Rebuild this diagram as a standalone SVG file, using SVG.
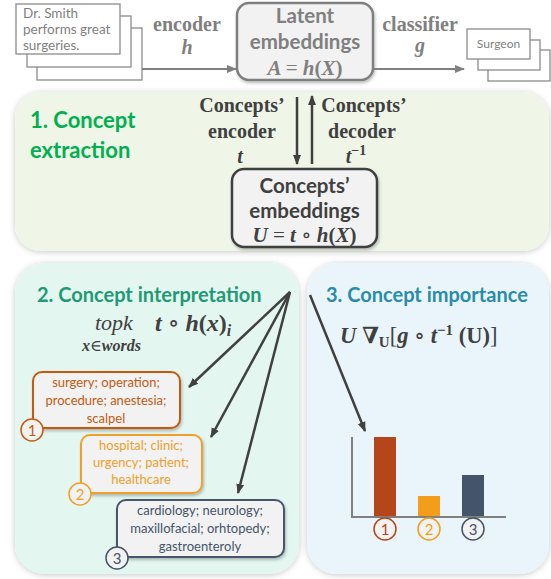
<svg xmlns="http://www.w3.org/2000/svg" width="551" height="579" viewBox="0 0 551 579">
<defs>
<style>
.sans{font-family:Lato,"Open Sans","Liberation Sans",sans-serif}
.serif{font-family:"Liberation Serif","DejaVu Serif",serif}
.doc{fill:#fff;stroke:#8a8a8a;stroke-width:1.3}
.gray{fill:#7f7f7f}
.dark{fill:#404040}
.lbl{font-family:"Liberation Serif","DejaVu Serif",serif;font-weight:bold;font-size:20px;text-anchor:middle}
.math{font-family:"Liberation Serif","DejaVu Serif",serif;font-weight:bold;font-style:italic}
.wbox{fill:#f2f2f2;stroke-width:2}
.wtxt{font-family:Lato,"Open Sans","Liberation Sans",sans-serif;font-size:13px;text-anchor:middle}
.num{font-family:Lato,"Open Sans","Liberation Sans",sans-serif;font-size:15px;text-anchor:middle}
.conn{stroke:#404040;stroke-width:2.5;fill:none}
</style>
<filter id="sh" x="-10%" y="-10%" width="120%" height="120%">
<feDropShadow dx="0" dy="1" stdDeviation="3" flood-color="#000" flood-opacity="0.22"/>
</filter>
<filter id="sh2" x="-10%" y="-10%" width="120%" height="130%">
<feDropShadow dx="1" dy="2" stdDeviation="1.5" flood-color="#000" flood-opacity="0.25"/>
</filter>
<marker id="ah" viewBox="0 0 10 10" refX="9" refY="5" markerWidth="10" markerHeight="10" markerUnits="userSpaceOnUse" orient="auto">
<path d="M0,1 L10,5 L0,9 Z" fill="#404040"/>
</marker>
<marker id="ahg" viewBox="0 0 10 10" refX="9" refY="5" markerWidth="10" markerHeight="10" markerUnits="userSpaceOnUse" orient="auto">
<path d="M0,1 L10,5 L0,9 Z" fill="#808080"/>
</marker>
</defs>
<rect width="551" height="579" fill="#fff"/>

<!-- panels -->
<g id="panel1">
<rect x="15" y="92" width="534" height="159" rx="26" fill="#eff6e8" filter="url(#sh)"/>
<text class="sans" x="30" y="128" font-size="22" font-weight="bold" fill="#00b050">1. Concept</text>
<text class="sans" x="30" y="158" font-size="22" font-weight="bold" fill="#00b050">extraction</text>
</g>
<g id="panel2">
<rect x="15" y="263" width="284" height="311" rx="30" fill="#e3f6ef" filter="url(#sh)"/>
<text class="sans" x="37" y="302" font-size="20" font-weight="bold" fill="#1f9a75">2. Concept interpretation</text>
<text x="95" y="330" font-size="22" class="serif dark" font-style="italic">topk</text>
<text x="155" y="331" font-size="24" class="math dark">t <tspan font-style="normal" font-weight="normal">∘</tspan> h<tspan font-style="normal">(</tspan>x<tspan font-style="normal">)</tspan><tspan font-size="16" dy="5">i</tspan></text>
<text x="82" y="351" font-size="16" class="math dark">x<tspan font-style="normal" font-weight="normal">∈</tspan>words</text>
</g>
<g id="panel3">
<rect x="307" y="263" width="242" height="311" rx="30" fill="#eaf5fb" filter="url(#sh)"/>
<text class="sans" x="326" y="302" font-size="20" font-weight="bold" fill="#2a8ca8">3. Concept importance</text>
<text x="340" y="343" font-size="22.5" class="math dark">U <tspan font-style="normal">∇</tspan><tspan font-style="normal" font-size="15" dy="4">U</tspan><tspan font-style="normal" font-weight="normal" dy="-4">[</tspan>g <tspan font-style="normal" font-weight="normal">∘</tspan> t<tspan font-style="normal" font-size="15" dy="-8">−1</tspan><tspan font-style="normal" dy="8"> (U)</tspan><tspan font-style="normal" font-weight="normal">]</tspan></text>
</g>

<!-- input documents -->
<g id="input-docs">
<rect class="doc" x="37" y="28" width="105" height="52"/>
<rect class="doc" x="27" y="16" width="104" height="51"/>
<rect class="doc" x="16" y="4" width="104" height="50"/>
<text class="sans gray" font-size="13.5" x="23" y="18">Dr. Smith</text>
<text class="sans gray" font-size="13.5" x="23" y="34">performs great</text>
<text class="sans gray" font-size="13.5" x="23" y="50">surgeries.</text>
</g>

<g id="latent">
<rect x="237" y="3" width="136" height="77" rx="12" fill="#f2f2f2" stroke="#7f7f7f" stroke-width="2.5" filter="url(#sh2)"/>
<text class="sans gray" font-size="20.5" font-weight="bold" x="305" y="23" text-anchor="middle">Latent</text>
<text class="sans gray" font-size="20.5" font-weight="bold" x="305" y="49" text-anchor="middle">embeddings</text>
<text class="math gray" font-size="21" x="305" y="75" text-anchor="middle">A <tspan font-style="normal" font-weight="normal">=</tspan> h<tspan font-style="normal">(</tspan>X<tspan font-style="normal">)</tspan></text>
</g>

<g id="output">
<rect class="doc" x="488" y="50" width="62" height="31"/>
<rect class="doc" x="478" y="40" width="62" height="30"/>
<rect class="doc" x="467" y="29" width="63" height="30"/>
<text class="sans gray" font-size="12" x="498.5" y="48" text-anchor="middle">Surgeon</text>
</g>

<g id="concept-emb">
<rect x="232" y="169" width="145" height="78" rx="12" fill="#f2f2f2" stroke="#404040" stroke-width="2.5" filter="url(#sh2)"/>
<text class="sans dark" font-size="20.5" font-weight="bold" x="304.5" y="193" text-anchor="middle">Concepts’</text>
<text class="sans dark" font-size="20.5" font-weight="bold" x="304.5" y="218" text-anchor="middle">embeddings</text>
<text class="math dark" font-size="21" x="304.5" y="242" text-anchor="middle">U <tspan font-style="normal" font-weight="normal">=</tspan> t <tspan font-style="normal" font-weight="normal">∘</tspan> h<tspan font-style="normal">(</tspan>X<tspan font-style="normal">)</tspan></text>
</g>

<g id="concept1">
<rect class="wbox" x="33" y="372" width="147" height="56" rx="9" stroke="#c55a11" filter="url(#sh2)"/>
<text class="wtxt" fill="#c55a11" x="106" y="387">surgery; operation;</text>
<text class="wtxt" fill="#c55a11" x="106" y="405">procedure; anestesia;</text>
<text class="wtxt" fill="#c55a11" x="106" y="423">scalpel</text>
<circle cx="32" cy="430" r="11" fill="#f2f2f2" stroke="#c55a11" stroke-width="1.5"/>
<text class="num" fill="#c55a11" x="32" y="436">1</text>
</g>
<g id="concept2">
<rect class="wbox" x="81" y="435" width="121" height="58" rx="9" stroke="#f0a02a" filter="url(#sh2)"/>
<text class="wtxt" fill="#f0a02a" x="141" y="450">hospital; clinic;</text>
<text class="wtxt" fill="#f0a02a" x="141" y="467">urgency; patient;</text>
<text class="wtxt" fill="#f0a02a" x="141" y="484">healthcare</text>
<circle cx="80" cy="494" r="11" fill="#f2f2f2" stroke="#f0a02a" stroke-width="1.5"/>
<text class="num" fill="#f0a02a" x="80" y="500">2</text>
</g>
<g id="concept3">
<rect class="wbox" x="117" y="500" width="167" height="57" rx="9" stroke="#44546a" filter="url(#sh2)"/>
<text class="wtxt" fill="#44546a" x="200" y="515">cardiology; neurology;</text>
<text class="wtxt" fill="#44546a" x="200" y="533">maxillofacial; orhtopedy;</text>
<text class="wtxt" fill="#44546a" x="200" y="551">gastroenteroly</text>
<circle cx="117" cy="558" r="11" fill="#f2f2f2" stroke="#44546a" stroke-width="1.5"/>
<text class="num" fill="#44546a" x="117" y="564">3</text>
</g>

<g id="chart">
<rect x="374" y="437" width="22" height="80" fill="#b5461a"/>
<rect x="418" y="496" width="22" height="21" fill="#f29e1a"/>
<rect x="462" y="475" width="22" height="42" fill="#44546a"/>
<path d="M352,437 V517 H506" fill="none" stroke="#808080" stroke-width="2"/>
<circle cx="385" cy="529" r="11" fill="#f2f2f2" stroke="#b5461a" stroke-width="1.5"/>
<text class="num" fill="#b5461a" x="385" y="535">1</text>
<circle cx="429" cy="529" r="11" fill="#f2f2f2" stroke="#f29e1a" stroke-width="1.5"/>
<text class="num" fill="#f29e1a" x="429" y="535">2</text>
<circle cx="473" cy="529" r="11" fill="#f2f2f2" stroke="#44546a" stroke-width="1.5"/>
<text class="num" fill="#44546a" x="473" y="535">3</text>
</g>

<g id="connectors">
<line x1="142" y1="69" x2="236" y2="69" stroke="#808080" stroke-width="2" marker-end="url(#ahg)"/>
<text class="lbl gray" x="187" y="31">encoder</text>
<text class="math gray" font-size="20" x="187" y="54" text-anchor="middle">h</text>
<line x1="374" y1="69" x2="464" y2="69" stroke="#808080" stroke-width="2" marker-end="url(#ahg)"/>
<text class="lbl gray" x="420" y="31">classifier</text>
<text class="math gray" font-size="20" x="420" y="52" text-anchor="middle">g</text>

<line class="conn" x1="297" y1="97" x2="297" y2="164" marker-end="url(#ah)"/>
<line class="conn" x1="312" y1="164" x2="312" y2="96" marker-end="url(#ah)"/>
<text class="lbl dark" x="242" y="112">Concepts’</text>
<text class="lbl dark" x="242" y="138">encoder</text>
<text class="math dark" font-size="20" x="240" y="163" text-anchor="middle">t</text>
<text class="lbl dark" x="364" y="112">Concepts’</text>
<text class="lbl dark" x="362" y="138">decoder</text>
<text class="math dark" font-size="20" x="356" y="163" text-anchor="middle">t<tspan font-style="normal" font-size="14" dy="-8">−1</tspan></text>

<line class="conn" x1="290" y1="292" x2="189" y2="387" marker-end="url(#ah)"/>
<line class="conn" x1="290" y1="292" x2="211" y2="437" marker-end="url(#ah)"/>
<line class="conn" x1="290" y1="292" x2="238" y2="493" marker-end="url(#ah)"/>
<line class="conn" x1="310" y1="295" x2="365" y2="431" marker-end="url(#ah)"/>
</g>
</svg>
